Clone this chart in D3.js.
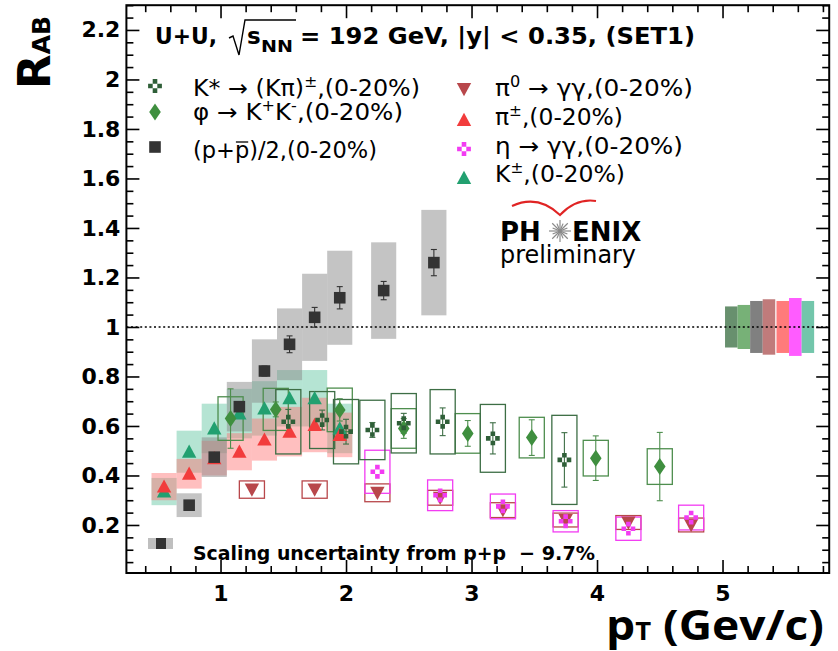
<!DOCTYPE html>
<html><head><meta charset="utf-8">
<script src="https://cdn.jsdelivr.net/npm/d3@7"></script>
<style>body{margin:0;background:#fff}svg{display:block}</style>
</head><body><svg id="c" width="838" height="651"></svg>
<script>
// ---------------- data ----------------
const kstarPt   = [1.54, 1.81, 2.00, 2.21, 2.46, 2.77, 3.17, 3.74];
const kstarRAB  = [0.617, 0.624, 0.577, 0.584, 0.611, 0.617, 0.550, 0.463];
const kstarStat = [0.05, 0.04, 0.05, 0.03, 0.04, 0.056, 0.063, 0.11];
const kstarSys  = [0.13, 0.115, 0.13, 0.12, 0.12, 0.13, 0.137, 0.18];

const phiPt   = [1.08, 1.44, 1.95, 2.46, 2.97, 3.48, 3.99, 4.50];
const phiRAB  = [0.630, 0.667, 0.665, 0.590, 0.570, 0.553, 0.470, 0.436];
const phiStat = [0.12, 0.03, 0.045, 0.04, 0.052, 0.072, 0.09, 0.138];
const phiSys  = [0.088, 0.085, 0.088, 0.08, 0.08, 0.082, 0.072, 0.072];

const protonPt   = [0.75, 0.95, 1.15, 1.35, 1.55, 1.75, 1.95, 2.30, 2.70];
const protonRAB  = [0.280, 0.474, 0.678, 0.822, 0.930, 1.039, 1.118, 1.147, 1.260];
const protonStat = [0.01, 0.012, 0.015, 0.02, 0.034, 0.04, 0.045, 0.037, 0.053];
const protonSys  = [0.048, 0.08, 0.10, 0.128, 0.145, 0.176, 0.19, 0.195, 0.213];

const pi0Pt  = [1.25, 1.75, 2.25, 2.75, 3.25, 3.75, 4.25, 4.75];
const pi0RAB = [0.343, 0.343, 0.330, 0.310, 0.260, 0.220, 0.210, 0.200];
const pi0Sys = [0.035, 0.035, 0.036, 0.03, 0.03, 0.028, 0.028, 0.028];

const pipmPt  = [0.55, 0.75, 0.95, 1.15, 1.35, 1.55, 1.75, 1.95];
const pipmRAB = [0.355, 0.407, 0.470, 0.496, 0.545, 0.577, 0.604, 0.564];
const pipmSys = [0.055, 0.06, 0.07, 0.075, 0.085, 0.10, 0.11, 0.09];

const etaPt  = [2.25, 2.75, 3.25, 3.75, 4.25, 4.75];
const etaRAB = [0.415, 0.320, 0.275, 0.215, 0.185, 0.230];
const etaSys = [0.087, 0.062, 0.05, 0.043, 0.047, 0.05];

const kpmPt  = [0.55, 0.75, 0.95, 1.15, 1.35, 1.55, 1.75, 1.95];
const kpmRAB = [0.335, 0.496, 0.590, 0.650, 0.671, 0.712, 0.712, 0.590];
const kpmSys = [0.055, 0.085, 0.10, 0.10, 0.11, 0.114, 0.114, 0.10];

// normalisation (scaling) uncertainties, drawn at RAB = 1
const scalePt   = [5.07, 5.17, 5.27, 5.37, 5.48, 5.58, 5.68];
const scaleUnc  = [0.083, 0.089, 0.105, 0.112, 0.105, 0.117, 0.105];
const scaleCol  = ["#4d7d55", "#5fa35f", "#6a6a6a", "#b56464", "#ff6464", "#ff40ff", "#5bbc9c"];

const xMajorTicks = [1, 2, 3, 4, 5];
const xTickLabels = ["1", "2", "3", "4", "5"];
const yMajorTicks = [0.2, 0.4, 0.6, 0.8, 1.0, 1.2, 1.4, 1.6, 1.8, 2.0, 2.2];
const yTickLabels = ["0.2", "0.4", "0.6", "0.8", "1", "1.2", "1.4", "1.6", "1.8", "2", "2.2"];

// ---------------- colours ----------------
const C = {
  kstar: "#2f5f38", kstarBox: "#3d6e45",
  phi: "#3f8f3f", phiBox: "#4e8e4e",
  proton: "#333333", protonBox: "#8a8a8a",
  pi0: "#b8474b",
  pipm: "#f23c3c", pipmBox: "#ff7070",
  eta: "#f23cf2",
  kpm: "#22a070", kpmBox: "#5cc49e"
};

const FONT = "DejaVu Sans";
const svg = d3.select("#c");
const x = d3.scaleLinear().domain([0.25, 5.85]).range([126.4, 829.2]);
const y = d3.scaleLinear().domain([0.006, 2.3]).range([573, 5.2]);

// ---------------- helpers ----------------
function filledBoxes(xs, ys, es, fill, op, hw = 0.1) {
  svg.append("g").selectAll("rect").data(xs).join("rect")
    .attr("x", d => x(d - hw)).attr("width", d => x(d + hw) - x(d - hw))
    .attr("y", (d, i) => y(ys[i] + es[i]))
    .attr("height", (d, i) => y(ys[i] - es[i]) - y(ys[i] + es[i]))
    .attr("fill", fill).attr("fill-opacity", op);
}
function openBoxes(xs, ys, es, stroke, hw = 0.1) {
  svg.append("g").selectAll("rect").data(xs).join("rect")
    .attr("x", d => x(d - hw)).attr("width", d => x(d + hw) - x(d - hw))
    .attr("y", (d, i) => y(ys[i] + es[i]))
    .attr("height", (d, i) => y(ys[i] - es[i]) - y(ys[i] + es[i]))
    .attr("fill", "none").attr("stroke", stroke).attr("stroke-width", 1.3);
}
function errorBars(xs, ys, es, col) {
  const g = svg.append("g").attr("stroke", col).attr("stroke-width", 1.1);
  xs.forEach((d, i) => {
    const px = x(d), y1 = y(ys[i] + es[i]), y0 = y(ys[i] - es[i]);
    g.append("line").attr("x1", px).attr("x2", px).attr("y1", y1).attr("y2", y0);
    g.append("line").attr("x1", px - 3).attr("x2", px + 3).attr("y1", y1).attr("y2", y1);
    g.append("line").attr("x1", px - 3).attr("x2", px + 3).attr("y1", y0).attr("y2", y0);
  });
}
const SHAPES = {
  square: "M-5.8,-5.8h11.6v11.6h-11.6Z",
  up: "M0,-7.2L7.2,6L-7.2,6Z",
  down: "M0,7.2L7.2,-6L-7.2,-6Z",
  diamond: "M0,-8.5L5.8,0L0,8.5L-5.8,0Z",
  cross: (() => { const a = 4.6, s = a / 2;
    return [[0, -a], [0, a], [-a, 0], [a, 0]].map(([cx, cy]) =>
      `M${cx - s},${cy - s}h${a}v${a}h${-a}Z`).join(""); })()
};
function markers(xs, ys, shape, col) {
  svg.append("g").selectAll("path").data(xs).join("path")
    .attr("d", SHAPES[shape])
    .attr("transform", (d, i) => `translate(${x(d)},${y(ys[i])})`)
    .attr("fill", col);
}

// ---------------- systematic boxes ----------------
filledBoxes(kpmPt, kpmRAB, kpmSys, C.kpmBox, 0.45);
filledBoxes(pipmPt, pipmRAB, pipmSys, C.pipmBox, 0.45);
filledBoxes(protonPt, protonRAB, protonSys, C.protonBox, 0.5);

// scaling uncertainty boxes at 1
svg.append("g").selectAll("rect").data(scalePt).join("rect")
  .attr("x", d => x(d - 0.05)).attr("width", d => x(d + 0.05) - x(d - 0.05))
  .attr("y", (d, i) => y(1 + scaleUnc[i]))
  .attr("height", (d, i) => y(1 - scaleUnc[i]) - y(1 + scaleUnc[i]))
  .attr("fill", (d, i) => scaleCol[i]).attr("fill-opacity", 0.85);

openBoxes(pi0Pt, pi0RAB, pi0Sys, C.pi0);
openBoxes(etaPt, etaRAB, etaSys, C.eta);
openBoxes(phiPt, phiRAB, phiSys, C.phiBox);
openBoxes(kstarPt, kstarRAB, kstarSys, C.kstarBox);

// dotted line at 1
svg.append("line").attr("x1", x(0.25)).attr("x2", x(5.85))
  .attr("y1", y(1)).attr("y2", y(1))
  .attr("stroke", "#000").attr("stroke-width", 1.4).attr("stroke-dasharray", "2,2.6");

// statistical errors
errorBars(protonPt, protonRAB, protonStat, C.proton);
errorBars(phiPt, phiRAB, phiStat, C.phiBox);
errorBars(kstarPt, kstarRAB, kstarStat, C.kstarBox);

// markers
markers(kpmPt, kpmRAB, "up", C.kpm);
markers(pipmPt, pipmRAB, "up", C.pipm);
markers(protonPt, protonRAB, "square", C.proton);
markers(pi0Pt, pi0RAB, "down", C.pi0);
markers(etaPt, etaRAB, "cross", C.eta);
markers(phiPt, phiRAB, "diamond", C.phi);
markers(kstarPt, kstarRAB, "cross", C.kstar);

// ---------------- axes ----------------
const range = (a, b, s) => { const r = []; for (let v = a; v <= b + 1e-9; v += s) r.push(+v.toFixed(3)); return r; };
const xMinor = range(0.4, 5.8, 0.2).filter(v => !xMajorTicks.some(m => Math.abs(m - v) < 1e-6));
const yMinor = range(0.05, 2.3, 0.05).filter(v => !yMajorTicks.some(m => Math.abs(m - v) < 1e-6));
const x0 = x(0.25), x1 = x(5.85), yb = y(0.006), yt = y(2.3);

function styleAxis(g) {
  g.select(".domain").remove();
  g.selectAll("line").attr("stroke", "#000").attr("stroke-width", 1.6);
  g.selectAll("text").attr("font-family", FONT).attr("font-weight", "bold")
    .attr("font-size", 22).attr("fill", "#000");
}
svg.append("g").attr("transform", `translate(0,${yb})`)
  .call(d3.axisBottom(x).tickValues(xMajorTicks).tickFormat((d, i) => xTickLabels[i]).tickSize(-13).tickPadding(12))
  .call(styleAxis);
svg.append("g").attr("transform", `translate(0,${yb})`)
  .call(d3.axisBottom(x).tickValues(xMinor).tickFormat("").tickSize(-7)).call(styleAxis);
svg.append("g").attr("transform", `translate(0,${yt})`)
  .call(d3.axisTop(x).tickValues(xMajorTicks).tickFormat("").tickSize(-13)).call(styleAxis);
svg.append("g").attr("transform", `translate(0,${yt})`)
  .call(d3.axisTop(x).tickValues(xMinor).tickFormat("").tickSize(-7)).call(styleAxis);
svg.append("g").attr("transform", `translate(${x0},0)`)
  .call(d3.axisLeft(y).tickValues(yMajorTicks).tickFormat((d, i) => yTickLabels[i]).tickSize(-13).tickPadding(6))
  .call(styleAxis);
svg.append("g").attr("transform", `translate(${x0},0)`)
  .call(d3.axisLeft(y).tickValues(yMinor).tickFormat("").tickSize(-7)).call(styleAxis);
svg.append("g").attr("transform", `translate(${x1},0)`)
  .call(d3.axisRight(y).tickValues(yMajorTicks).tickFormat("").tickSize(-13)).call(styleAxis);
svg.append("g").attr("transform", `translate(${x1},0)`)
  .call(d3.axisRight(y).tickValues(yMinor).tickFormat("").tickSize(-7)).call(styleAxis);

svg.append("rect").attr("x", x0).attr("y", yt).attr("width", x1 - x0).attr("height", yb - yt)
  .attr("fill", "none").attr("stroke", "#000").attr("stroke-width", 2);

// ---------------- axis titles ----------------
const yl = svg.append("text").attr("transform", "translate(50,89) rotate(-90)")
  .attr("font-family", FONT).attr("font-weight", "bold").attr("fill", "#000");
yl.append("tspan").attr("font-size", 45).text("R");
yl.append("tspan").attr("font-size", 25).text("AB");

const xl = svg.append("text").attr("x", 606).attr("y", 640)
  .attr("font-family", "Open Sans").attr("font-weight", "bold").attr("fill", "#000")
  .attr("textLength", 218).attr("lengthAdjust", "spacingAndGlyphs");
xl.append("tspan").attr("font-size", 42).text("p");
xl.append("tspan").attr("font-size", 25).text("T");
xl.append("tspan").attr("font-size", 42).text(" (Gev/c)");

// ---------------- title ----------------
function txt(xp, yp, s, size, weight, len) {
  const t = svg.append("text").attr("x", xp).attr("y", yp).attr("font-family", FONT)
    .attr("font-size", size).attr("font-weight", weight).attr("fill", "#000").text(s);
  if (len) t.attr("textLength", len).attr("lengthAdjust", "spacingAndGlyphs");
  return t;
}
txt(155, 44, "U+U,", 23, "bold", 62);
svg.append("path").attr("d", "M229,38L233,36L239,55L245,20L296,20")
  .attr("fill", "none").attr("stroke", "#000").attr("stroke-width", 1.4);
txt(247, 44, "s", 23, "bold");
txt(261, 52, "NN", 15, "bold", 32);
txt(300, 44, "= 192 GeV, |y| < 0.35, (SET1)", 23, "bold", 395);

// ---------------- legend ----------------
function legText(xp, yp, parts, len) {
  const t = svg.append("text").attr("x", xp).attr("y", yp).attr("font-family", FONT)
    .attr("font-size", 23).attr("fill", "#000");
  let pending = 0;
  parts.forEach(p => {
    if (typeof p === "object") {
      t.append("tspan").attr("font-size", 15).attr("dy", pending - 9).text(p.s);
      pending = 9;
    } else {
      t.append("tspan").attr("dy", pending).text(p);
      pending = 0;
    }
  });
  if (len) t.attr("textLength", len).attr("lengthAdjust", "spacingAndGlyphs");
  return t;
}
function legMarker(xp, yp, shape, col) {
  svg.append("path").attr("d", SHAPES[shape]).attr("transform", `translate(${xp},${yp})`).attr("fill", col);
}
const legendLeft = [
  {shape: "cross", col: C.kstar, y: 86, base: 96, len: 227, parts: ["K* \u2192 (K\u03C0)", {s: "\u00B1"}, ",(0-20%)"]},
  {shape: "diamond", col: C.phi, y: 112, base: 120, len: 210, parts: ["\u03C6 \u2192 K", {s: "+"}, "K", {s: "-"}, ",(0-20%)"]},
  {shape: "square", col: C.proton, y: 147, base: 158, len: 184, parts: ["(p+p)/2,(0-20%)"]}
];
legendLeft.forEach(l => { legMarker(155, l.y, l.shape, l.col); l.node = legText(193, l.base, l.parts, l.len); });
// overline on anti-proton
{
  const n = legendLeft[2].node.node();
  const b = n.getExtentOfChar(3);
  svg.append("line").attr("x1", b.x + 1).attr("x2", b.x + b.width - 1)
    .attr("y1", b.y + 5).attr("y2", b.y + 5).attr("stroke", "#000").attr("stroke-width", 1.3);
}
const legendRight = [
  {shape: "down", col: C.pi0, y: 89, base: 96, len: 198, parts: ["\u03C0", {s: "0"}, " \u2192 \u03B3\u03B3,(0-20%)"]},
  {shape: "up", col: C.pipm, y: 120, base: 125, len: 128, parts: ["\u03C0", {s: "\u00B1"}, ",(0-20%)"]},
  {shape: "cross", col: C.eta, y: 149, base: 154, len: 188, parts: ["\u03B7 \u2192 \u03B3\u03B3,(0-20%)"]},
  {shape: "up", col: C.kpm, y: 178, base: 182, len: 130, parts: ["K", {s: "\u00B1"}, ",(0-20%)"]}
];
legendRight.forEach(l => { legMarker(464, l.y, l.shape, l.col); legText(495, l.base, l.parts, l.len); });

// ---------------- scaling legend ----------------
svg.append("rect").attr("x", 148).attr("y", 538).attr("width", 25).attr("height", 11)
  .attr("fill", C.protonBox).attr("fill-opacity", 0.55);
svg.append("rect").attr("x", 156).attr("y", 538).attr("width", 10).attr("height", 11).attr("fill", C.proton);
txt(193, 560, "Scaling uncertainty from p+p", 20, "bold", 313);
txt(519, 560, "\u2212 9.7%", 20, "bold", 76);

// ---------------- PHENIX logo ----------------
svg.append("path").attr("d", "M512,206 Q538,194 560,215 Q576,198 596,201")
  .attr("fill", "none").attr("stroke", "#e02424").attr("stroke-width", 2);
txt(500, 241, "PH", 26, "bold");
txt(572, 241, "ENIX", 26, "bold");
{
  const g = svg.append("g").attr("stroke", "#8a8a8a").attr("stroke-width", 1.2);
  for (let k = 0; k < 16; k++) {
    const a = k * Math.PI / 8, r = k % 2 ? 8 : 11;
    g.append("line").attr("x1", 560).attr("y1", 231).attr("x2", 560 + r * Math.cos(a)).attr("y2", 231 + r * Math.sin(a));
  }
}
txt(500, 263, "preliminary", 24, "normal", 136);
</script></body></html>
